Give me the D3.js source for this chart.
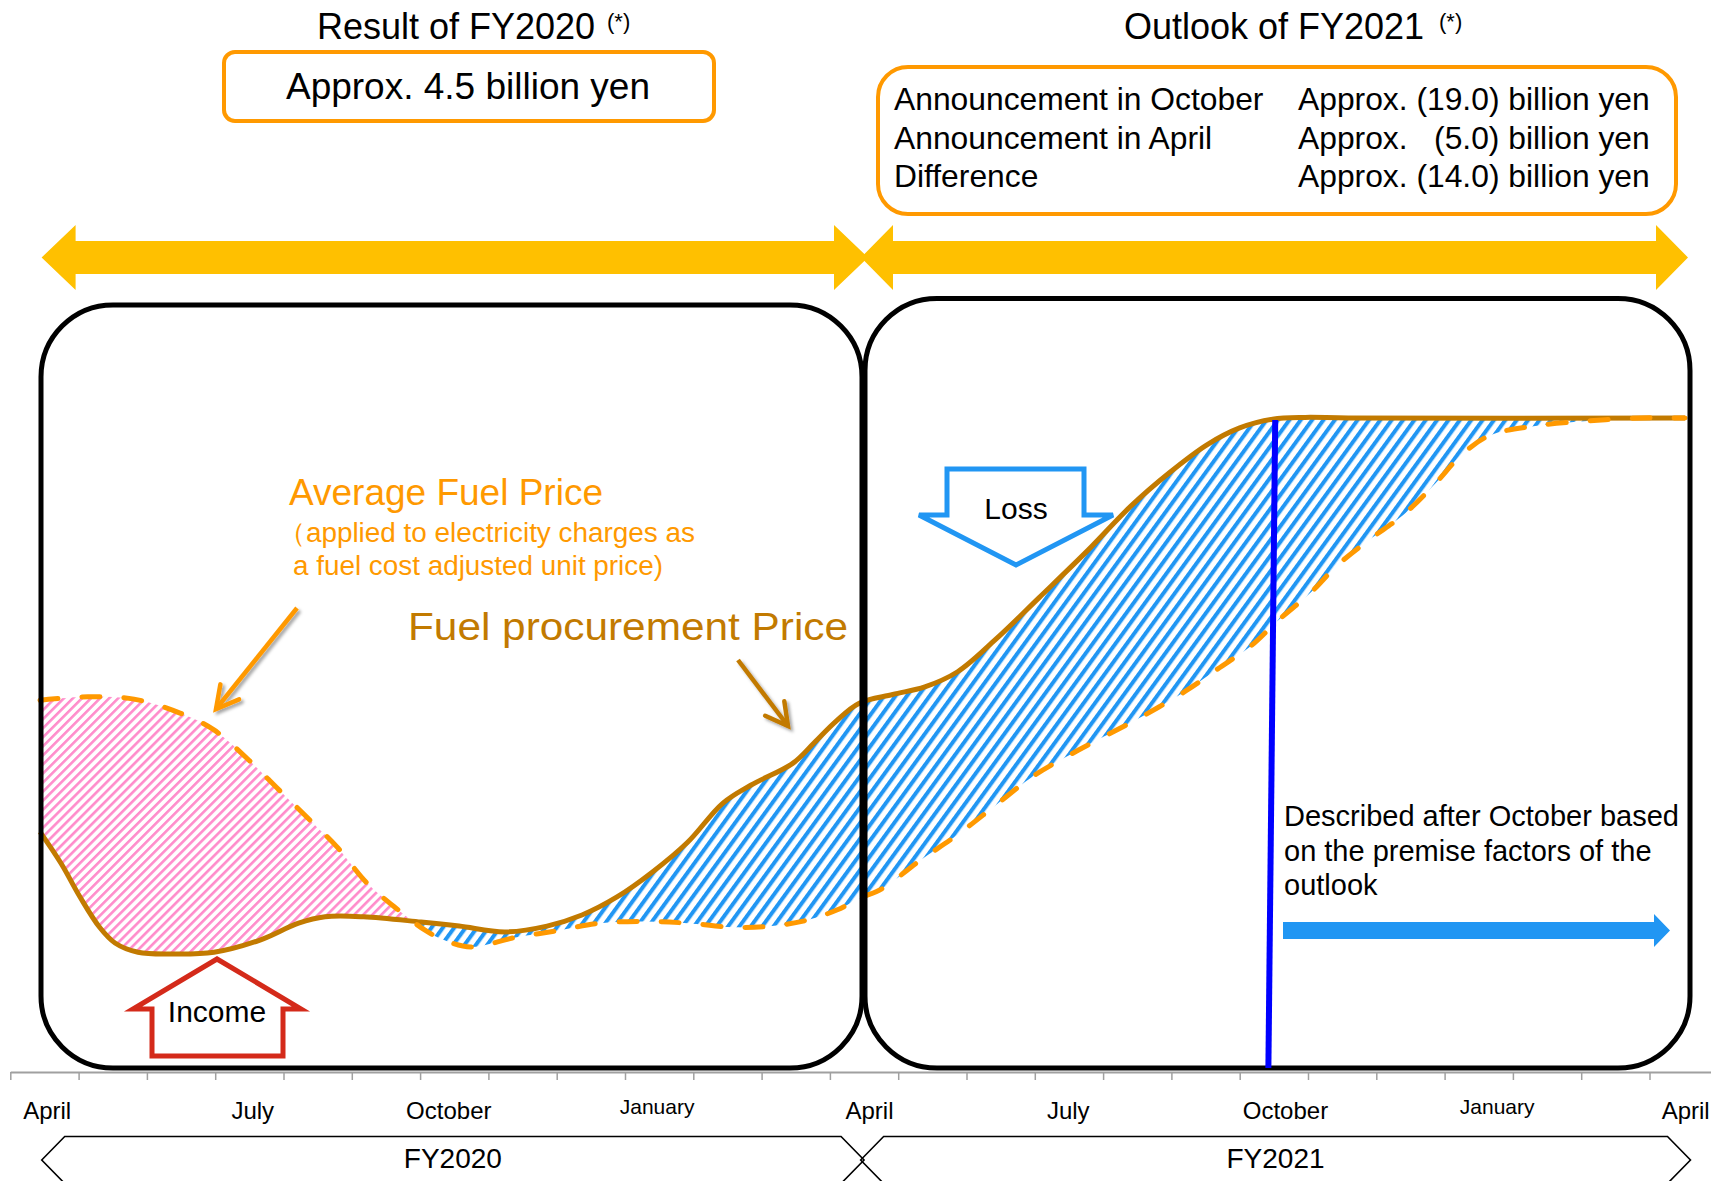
<!DOCTYPE html>
<html><head><meta charset="utf-8">
<script src="https://cdn.jsdelivr.net/npm/d3@7"></script>
<style>body{margin:0;background:#fff}svg{display:block}</style>
</head><body>
<script>
// ---------------- data ----------------
const monthTicks = d3.range(0, 25);                 // month boundaries, April FY2020 = 0
const monthLabelPos = [0.54, 3.55, 6.42, 9.47, 12.58, 15.49, 18.67, 21.77, 24.53];
const monthLabels = ["April","July","October","January","April","July","October","January","April"];
const fiscalYears = ["FY2020", "FY2021"];
const fiscalSpan = [[0.46, 12.5], [12.45, 24.6]];

// Fuel procurement price (solid), month position and price index
const procurementMonth = [0.435,0.742,1.021,1.307,1.533,1.870,2.367,2.982,3.656,4.220,4.608,5.173,6.013,6.570,7.243,7.858,8.370,8.883,9.403,9.917,10.43,10.84,11.46,11.77,12.08,12.43,12.92,13.39,13.87,14.43,15.06,15.78,16.41,16.97,17.52,18.00,18.48,18.96,19.59,24.52];
const procurementPrice = [28.9,23.5,17.7,12.5,9.8,8.2,7.9,8.2,10.3,13.2,14.3,14.3,13.4,12.7,11.7,12.7,14.6,17.7,22.0,27.1,33.8,36.9,40.7,44.2,47.8,51.0,52.5,53.8,56.4,62.0,69.1,77.3,84.9,90.6,95.4,98.3,99.8,100.1,100,100];

// Average fuel price (dashed)
const averageMonth = [0.435,1.137,1.811,2.485,2.982,3.495,3.934,4.388,4.783,5.222,5.676,6.072,6.350,6.745,7.375,8.004,8.634,9.30,9.917,10.58,11.15,11.66,12.11,12.44,12.76,13.31,13.87,14.43,14.98,15.54,15.94,16.57,17.21,17.68,18.16,18.56,19.04,19.43,19.91,20.39,20.86,21.26,21.66,22.30,23.09,23.88,24.52];
const averagePrice = [51.5,52.1,51.7,49.3,46.4,41.2,36.1,30.9,26.3,20.1,15.5,12.0,10.3,9.1,10.7,11.9,13.2,13.5,13.2,12.5,12.7,13.7,15.5,17.5,19.1,23.9,28.4,33.5,38.5,42.3,44.8,48.7,53.1,56.9,60.8,65.2,70.0,74.7,79.2,83.3,88.7,93.8,97.0,98.6,99.5,100,100];

const resultFY2020 = "4.5";
const outlookLabels = ["Announcement in October", "Announcement in April", "Difference"];
const outlookValues = ["(19.0)", "(5.0)", "(14.0)"];
const octoberMarker = [18.52, 18.42];   // month position of the outlook marker (top, bottom)

// ---------------- setup ----------------
const W = 1711, H = 1181;
const FONT = '"Liberation Sans", Arial, sans-serif';
const ORANGE = "#FF9900", BROWN = "#C27A00", GOLD = "#FFC000", BLUE = "#2196F3";

const svg = d3.select("body").append("svg")
  .attr("width", W).attr("height", H)
  .style("font-family", FONT);

const x = d3.scaleLinear().domain([0, 25]).range([10.3, 1717.8]);
const y = d3.scaleLinear().domain([0, 100]).range([1000, 418]);
const TOP = 300, BOTTOM = 1069;
const curve = d3.curveCatmullRom.alpha(0.5);

const proc = procurementMonth.map((m, i) => ({m, v: procurementPrice[i]}));
const avg = averageMonth.map((m, i) => ({m, v: averagePrice[i]}));

const defs = svg.append("defs");
const pink = defs.append("pattern").attr("id", "pinkHatch")
  .attr("patternUnits", "userSpaceOnUse").attr("width", 6.4).attr("height", 10)
  .attr("patternTransform", "rotate(45)");
pink.append("rect").attr("width", 2.6).attr("height", 10).attr("fill", "#FF8CCB");
const blueP = defs.append("pattern").attr("id", "blueHatch")
  .attr("patternUnits", "userSpaceOnUse").attr("width", 9.2).attr("height", 10)
  .attr("patternTransform", "rotate(36)");
blueP.append("rect").attr("width", 4.0).attr("height", 10).attr("fill", BLUE);

const shadow = defs.append("filter").attr("id", "shadow")
  .attr("x", "-50%").attr("y", "-50%").attr("width", "200%").attr("height", "200%");
shadow.append("feDropShadow").attr("dx", 2.5).attr("dy", 2.5).attr("stdDeviation", 1.8)
  .attr("flood-color", "#000").attr("flood-opacity", 0.35);

function clipArea(id, data, above) {
  const a = d3.area().x(d => x(d.m)).curve(curve);
  if (above) a.y0(TOP).y1(d => y(d.v)); else a.y0(d => y(d.v)).y1(BOTTOM);
  defs.append("clipPath").attr("id", id).append("path").attr("d", a(data));
}
clipArea("aboveSolid", proc, true);
clipArea("belowSolid", proc, false);
clipArea("aboveDashed", avg, true);
clipArea("belowDashed", avg, false);

// ---------------- top double arrows ----------------
function doubleArrow(xl, xr, yc, head) {
  const sh = 16.5, hh = 32.5;
  const pts = [[xl, yc], [xl + head, yc - hh], [xl + head, yc - sh], [xr - head, yc - sh], [xr - head, yc - hh],
               [xr, yc], [xr - head, yc + hh], [xr - head, yc + sh], [xl + head, yc + sh], [xl + head, yc + hh]];
  svg.append("polygon").attr("points", pts.map(p => p.join(",")).join(" ")).attr("fill", GOLD);
}
doubleArrow(41.6, 868, 257.5, 34);
doubleArrow(861, 1688, 257.5, 32);

// ---------------- titles & boxes ----------------
function title(txt, cx, sx) {
  svg.append("text").attr("x", cx).attr("y", 39).attr("text-anchor", "middle")
    .attr("font-size", 36).attr("fill", "#000").text(txt);
  svg.append("text").attr("x", sx).attr("y", 29).attr("font-size", 22).attr("fill", "#000").text("(*)");
}
title("Result of FY2020", 456, 607);
title("Outlook of FY2021", 1274, 1439);

svg.append("rect").attr("x", 224).attr("y", 52).attr("width", 490).attr("height", 69).attr("rx", 11)
  .attr("fill", "#fff").attr("stroke", ORANGE).attr("stroke-width", 4);
svg.append("text").attr("x", 468).attr("y", 99).attr("text-anchor", "middle").attr("font-size", 37)
  .text(`Approx. ${resultFY2020} billion yen`);

svg.append("rect").attr("x", 878).attr("y", 67).attr("width", 798).attr("height", 147).attr("rx", 30)
  .attr("fill", "#fff").attr("stroke", ORANGE).attr("stroke-width", 4);
const rowY = [110, 149, 187];
const maxLen = d3.max(outlookValues, v => v.length);
outlookLabels.forEach((l, i) => {
  svg.append("text").attr("x", 894).attr("y", rowY[i]).attr("font-size", 31.8).text(l);
  const pad = " ".repeat(1 + 2 * (maxLen - outlookValues[i].length));
  svg.append("text").attr("x", 1298).attr("y", rowY[i]).attr("font-size", 31.8)
    .style("white-space", "pre").attr("xml:space", "preserve")
    .text(`Approx.${pad}${outlookValues[i]} billion yen`);
});

// ---------------- hatched areas ----------------
const fillRect = (sel, pat) => sel.append("rect")
  .attr("x", x(procurementMonth[0])).attr("y", TOP)
  .attr("width", x(procurementMonth[procurementMonth.length - 1]) - x(procurementMonth[0]))
  .attr("height", BOTTOM - TOP).attr("fill", `url(#${pat})`);
fillRect(svg.append("g").attr("clip-path", "url(#aboveSolid)"), "pinkHatch").attr("clip-path", "url(#belowDashed)");
fillRect(svg.append("g").attr("clip-path", "url(#belowSolid)"), "blueHatch").attr("clip-path", "url(#aboveDashed)");

// ---------------- lines ----------------
const line = d3.line().x(d => x(d.m)).y(d => y(d.v)).curve(curve);
svg.append("path").attr("d", line(proc)).attr("fill", "none")
  .attr("stroke", BROWN).attr("stroke-width", 5).attr("stroke-linejoin", "round");
svg.append("path").attr("d", line(avg)).attr("fill", "none")
  .attr("stroke", ORANGE).attr("stroke-width", 5).attr("stroke-dasharray", "18,24")
  .attr("stroke-linecap", "round");

// ---------------- period frames ----------------
svg.append("rect").attr("x", 41).attr("y", 305).attr("width", 821).attr("height", 763).attr("rx", 72)
  .attr("fill", "none").attr("stroke", "#000").attr("stroke-width", 5);
svg.append("rect").attr("x", 865).attr("y", 298.5).attr("width", 825).attr("height", 769.5).attr("rx", 72)
  .attr("fill", "none").attr("stroke", "#000").attr("stroke-width", 5);

// ---------------- outlook marker ----------------
svg.append("line").attr("x1", x(octoberMarker[0])).attr("y1", y(100) + 2)
  .attr("x2", x(octoberMarker[1])).attr("y2", BOTTOM - 1)
  .attr("stroke", "#0000FF").attr("stroke-width", 6);

// ---------------- annotations ----------------
function poly(pts, stroke) {
  return svg.append("polygon").attr("points", pts.map(p => p.join(",")).join(" "))
    .attr("fill", "#fff").attr("stroke", stroke).attr("stroke-width", 5).attr("stroke-linejoin", "miter");
}
// Loss arrow
poly([[947,469],[1084,469],[1084,515],[1113,515],[1016,565],[919,515],[947,515]], BLUE);
svg.append("text").attr("x", 1016).attr("y", 519).attr("text-anchor", "middle").attr("font-size", 30).text("Loss");
// Income arrow
poly([[217,959],[301,1009],[283,1009],[283,1056],[152,1056],[152,1009],[133,1009]], "#D42A1A");
svg.append("text").attr("x", 217).attr("y", 1022).attr("text-anchor", "middle").attr("font-size", 30).text("Income");

function pointer(x1, y1, x2, y2, color) {
  const g = svg.append("g").attr("filter", "url(#shadow)");
  const a = Math.atan2(y2 - y1, x2 - x1), len = 25, s = 0.5;
  g.append("line").attr("x1", x1).attr("y1", y1).attr("x2", x2).attr("y2", y2)
    .attr("stroke", color).attr("stroke-width", 4.5);
  g.append("polyline").attr("points", [
      [x2 - len * Math.cos(a - s), y2 - len * Math.sin(a - s)], [x2, y2],
      [x2 - len * Math.cos(a + s), y2 - len * Math.sin(a + s)]].map(p => p.join(",")).join(" "))
    .attr("fill", "none").attr("stroke", color).attr("stroke-width", 4.5).attr("stroke-linecap", "round");
}
pointer(297, 608, 216, 709, ORANGE);
pointer(738, 660, 788, 726, BROWN);

svg.append("text").attr("x", 289).attr("y", 505).attr("font-size", 37).attr("fill", ORANGE)
  .attr("textLength", 314).attr("lengthAdjust", "spacingAndGlyphs").text("Average Fuel Price");
svg.append("text").attr("x", 278).attr("y", 542).attr("font-size", 27).attr("fill", ORANGE)
  .attr("textLength", 417).attr("lengthAdjust", "spacingAndGlyphs").text("（applied to electricity charges as");
svg.append("text").attr("x", 293).attr("y", 575).attr("font-size", 27).attr("fill", ORANGE)
  .attr("textLength", 370).attr("lengthAdjust", "spacingAndGlyphs").text("a fuel cost adjusted unit price)");
svg.append("text").attr("x", 408).attr("y", 640).attr("font-size", 38).attr("fill", BROWN)
  .attr("textLength", 440).attr("lengthAdjust", "spacingAndGlyphs").text("Fuel procurement Price");

// described text + arrow
["Described after October based", "on the premise factors of the", "outlook"].forEach((t, i) => {
  svg.append("text").attr("x", 1284).attr("y", 826 + i * 34.5).attr("font-size", 29).text(t);
});
svg.append("polygon").attr("points", [[1283,922],[1654,922],[1654,914],[1670,930.5],[1654,947],[1654,939],[1283,939]]
  .map(p => p.join(",")).join(" ")).attr("fill", BLUE);

// ---------------- axis ----------------
const ax = svg.append("g").attr("transform", "translate(0,1072)")
  .call(d3.axisBottom(x).tickValues(monthTicks).tickSize(8).tickSizeOuter(0).tickFormat(""));
ax.select(".domain").attr("stroke", "#A0A0A0").attr("stroke-width", 2);
ax.selectAll(".tick line").attr("stroke", "#A0A0A0").attr("stroke-width", 1.5);

monthLabels.forEach((lab, i) => {
  const jan = lab === "January";
  svg.append("text").attr("x", x(monthLabelPos[i])).attr("y", jan ? 1114 : 1119)
    .attr("text-anchor", "middle").attr("font-size", jan ? 21 : 24).text(lab);
});

// fiscal-year chevrons
fiscalYears.forEach((fy, i) => {
  const xl = x(fiscalSpan[i][0]), xr = x(fiscalSpan[i][1]);
  const yc = 1160, hh = 23.5, d = 23;
  svg.append("polygon").attr("points", [[xl, yc], [xl + d, yc - hh], [xr - d, yc - hh], [xr, yc], [xr - d, yc + hh], [xl + d, yc + hh]]
    .map(p => p.join(",")).join(" ")).attr("fill", "none").attr("stroke", "#000").attr("stroke-width", 1.6);
  svg.append("text").attr("x", (xl + xr) / 2).attr("y", 1168).attr("text-anchor", "middle")
    .attr("font-size", 28).text(fy);
});
</script>
</body></html>
